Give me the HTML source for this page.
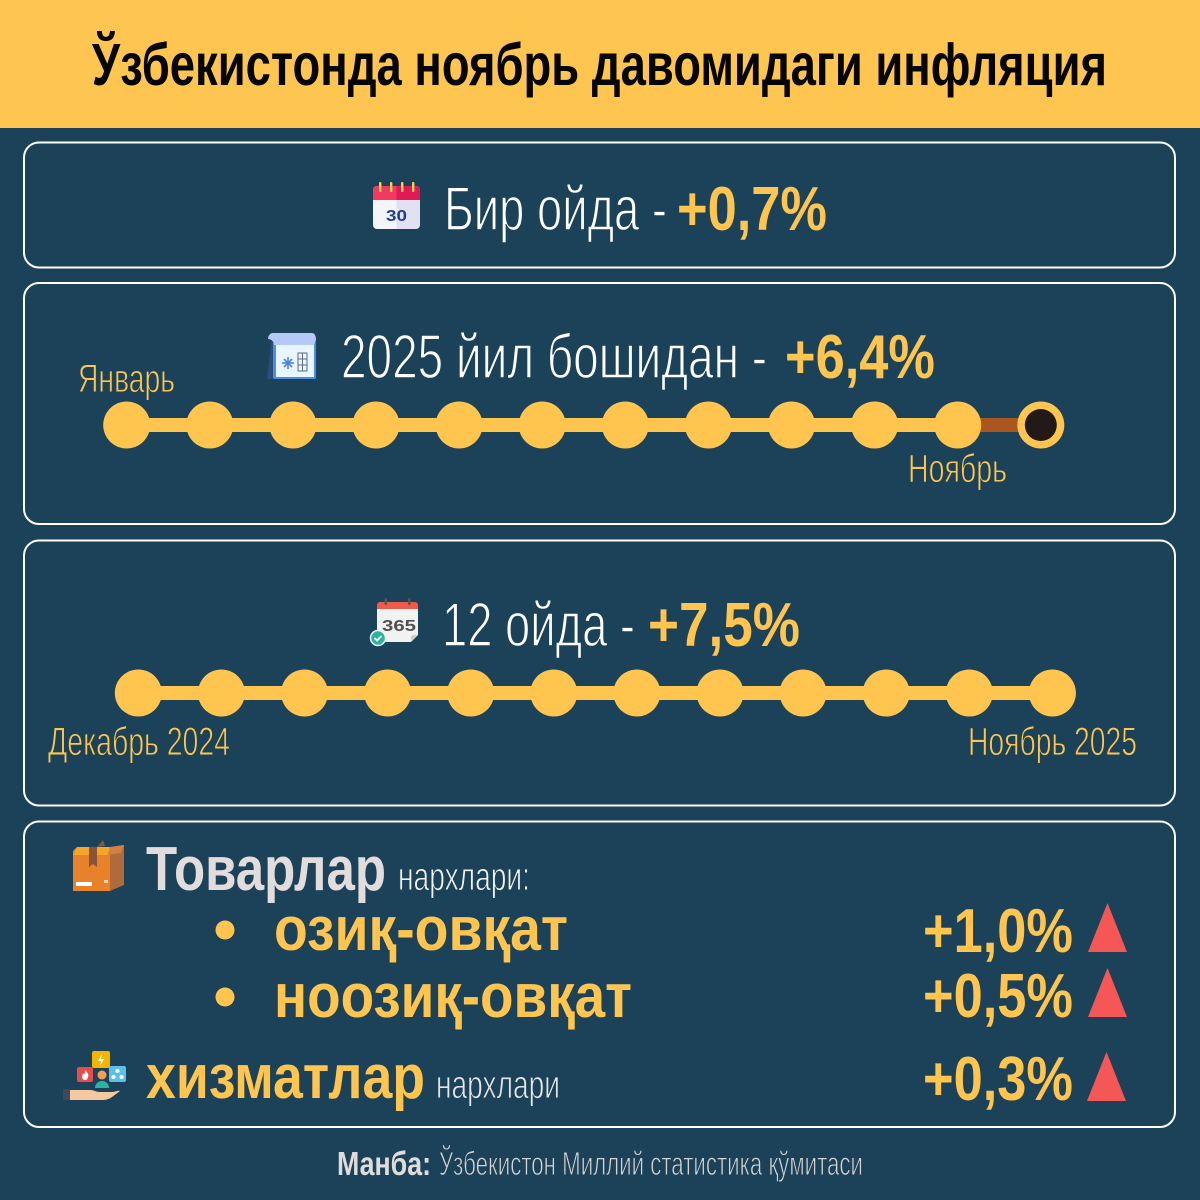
<!DOCTYPE html>
<html><head><meta charset="utf-8"><style>
html,body{margin:0;padding:0;background:#1B4259;}
svg{display:block;}
text{font-family:"Liberation Sans","DejaVu Sans",sans-serif;}
.b{font-weight:bold;}
.lt{stroke:#1B4259;stroke-width:1.4;}
.ls{stroke:#1B4259;stroke-width:0.9;}
</style></head><body>
<svg width="1200" height="1200" viewBox="0 0 1200 1200" xmlns="http://www.w3.org/2000/svg">
<rect width="1200" height="1200" fill="#1B4259"/>
<rect width="1200" height="128" fill="#FFC551"/>
<text x="92" y="85" font-size="59" class="b" fill="#050505" textLength="1015" lengthAdjust="spacingAndGlyphs">Ўзбекистонда ноябрь давомидаги инфляция</text>

<!-- boxes -->
<g fill="none" stroke="#FFFFFF" stroke-width="2">
<rect x="24" y="142.5" width="1151" height="125" rx="15"/>
<rect x="24" y="283" width="1151" height="241" rx="15"/>
<rect x="24" y="540.5" width="1151" height="265" rx="15"/>
<rect x="24" y="821.5" width="1151" height="305.5" rx="15"/>
</g>

<!-- box 1 -->
<g>
<path d="M377 186 h19.5 v43 h-19.5 a4 4 0 0 1 -4 -4 v-35 a4 4 0 0 1 4 -4z" fill="#F5F5F9"/>
<path d="M396.5 186 h19.5 a4 4 0 0 1 4 4 v35 a4 4 0 0 1 -4 4 h-19.5z" fill="#E3E0F1"/>
<path d="M377 186 h19.5 v14 h-23.5 v-10 a4 4 0 0 1 4 -4z" fill="#F2395F"/>
<path d="M396.5 186 h19.5 a4 4 0 0 1 4 4 v10 h-23.5z" fill="#E01A57"/>
<rect x="379" y="182" width="2.4" height="10" rx="1" fill="#F7D64A"/>
<rect x="390" y="182" width="2.4" height="10" rx="1" fill="#F7D64A"/>
<rect x="401" y="182" width="2.4" height="10" rx="1" fill="#F7D64A"/>
<rect x="412" y="182" width="2.4" height="10" rx="1" fill="#F7D64A"/>
<text x="386" y="221" font-size="16" class="b" fill="#1E3E90" textLength="21" lengthAdjust="spacingAndGlyphs">30</text>
</g>
<text x="444" y="230" font-size="62" fill="#FFFFFF" class="lt" textLength="223" lengthAdjust="spacingAndGlyphs">Бир ойда -</text>
<text x="677" y="230" font-size="62" class="b" fill="#FFC54F" textLength="150" lengthAdjust="spacingAndGlyphs">+0,7%</text>

<!-- box 2 -->
<g>
<path d="M272 336 L279 336 L279 379 L267 379 Z" fill="#2D4C7E"/>
<rect x="273" y="342" width="43" height="37" rx="2" fill="#4A8FE0"/>
<rect x="276" y="344" width="38" height="33" fill="#E9F5FF"/>
<path d="M272 333 h40 a4 6 0 0 1 0 12 h-38 a6 6 0 0 0 -6 -6 a6 6 0 0 1 4 -6z" fill="#B4C9F5"/>
<g stroke="#4D86E0" stroke-width="1.6">
<line x1="282" y1="363" x2="294" y2="363"/><line x1="288" y1="357" x2="288" y2="369"/>
<line x1="284" y1="359" x2="292" y2="367"/><line x1="292" y1="359" x2="284" y2="367"/>
</g>
<g stroke="#5A6A8A" stroke-width="1" fill="none">
<rect x="298" y="353" width="9" height="18"/>
<line x1="302.5" y1="353" x2="302.5" y2="371"/>
<line x1="298" y1="359" x2="307" y2="359"/><line x1="298" y1="365" x2="307" y2="365"/>
</g>
</g>
<text x="341" y="378" font-size="62" fill="#FFFFFF" class="lt" textLength="426" lengthAdjust="spacingAndGlyphs">2025 йил бошидан -</text>
<text x="785" y="378" font-size="62" class="b" fill="#FFC54F" textLength="150" lengthAdjust="spacingAndGlyphs">+6,4%</text>
<text x="78" y="392" font-size="40" fill="#FFC54F" class="ls" textLength="97" lengthAdjust="spacingAndGlyphs">Январь</text>
<text x="908" y="482" font-size="40" fill="#FFC54F" class="ls" textLength="99" lengthAdjust="spacingAndGlyphs">Ноябрь</text>

<line x1="126.7" y1="425" x2="958.6" y2="425" stroke="#FFC54F" stroke-width="14"/>
<line x1="958.6" y1="425" x2="1040.8" y2="425" stroke="#A9561F" stroke-width="14"/>
<g fill="#FFC54F">
<circle cx="126.7" cy="425" r="23.5"/><circle cx="209.8" cy="425" r="23.5"/><circle cx="292.9" cy="425" r="23.5"/>
<circle cx="376" cy="425" r="23.5"/><circle cx="459.1" cy="425" r="23.5"/><circle cx="542.2" cy="425" r="23.5"/>
<circle cx="625.3" cy="425" r="23.5"/><circle cx="708.4" cy="425" r="23.5"/><circle cx="791.5" cy="425" r="23.5"/>
<circle cx="874.6" cy="425" r="23.5"/><circle cx="957.7" cy="425" r="23.5"/><circle cx="1040.8" cy="425" r="23.5"/>
</g>
<circle cx="1040.8" cy="425" r="16" fill="#231A17"/>

<!-- box 3 -->
<g>
<path d="M377 609 v30 a3 3 0 0 0 3 3 h31 l7 -7 v-26 z" fill="#F2F2F2"/>
<path d="M411 642 v-5 a2 2 0 0 1 2 -2 h5 z" fill="#D0D0D0"/>
<path d="M380 602 h35 a3 3 0 0 1 3 3 v4 h-41 v-4 a3 3 0 0 1 3 -3z" fill="#F05A4A"/>
<rect x="384.5" y="598" width="2.6" height="7" rx="1.2" fill="#555"/>
<rect x="408" y="598" width="2.6" height="7" rx="1.2" fill="#555"/>
<text x="382" y="631" font-size="16" class="b" fill="#505050" textLength="34" lengthAdjust="spacingAndGlyphs">365</text>
<circle cx="378" cy="638" r="7.5" fill="#2BB3A0" stroke="#E8F5F3" stroke-width="1.5"/>
<path d="M374.5 638 l2.5 2.5 l4.5 -4.5" stroke="#fff" stroke-width="1.8" fill="none"/>
</g>
<text x="442" y="646" font-size="62" fill="#FFFFFF" class="lt" textLength="193" lengthAdjust="spacingAndGlyphs">12 ойда -</text>
<text x="648" y="646" font-size="62" class="b" fill="#FFC54F" textLength="152" lengthAdjust="spacingAndGlyphs">+7,5%</text>

<line x1="138.3" y1="693" x2="1052.4" y2="693" stroke="#FFC54F" stroke-width="14"/>
<g fill="#FFC54F">
<circle cx="138.3" cy="693" r="23.5"/><circle cx="221.4" cy="693" r="23.5"/><circle cx="304.5" cy="693" r="23.5"/>
<circle cx="387.6" cy="693" r="23.5"/><circle cx="470.7" cy="693" r="23.5"/><circle cx="553.8" cy="693" r="23.5"/>
<circle cx="636.9" cy="693" r="23.5"/><circle cx="720" cy="693" r="23.5"/><circle cx="803.1" cy="693" r="23.5"/>
<circle cx="886.2" cy="693" r="23.5"/><circle cx="969.3" cy="693" r="23.5"/><circle cx="1052.4" cy="693" r="23.5"/>
</g>
<text x="48" y="755" font-size="40" fill="#FFC54F" class="ls" textLength="182" lengthAdjust="spacingAndGlyphs">Декабрь 2024</text>
<text x="968" y="755" font-size="40" fill="#FFC54F" class="ls" textLength="169" lengthAdjust="spacingAndGlyphs">Ноябрь 2025</text>

<!-- box 4 -->
<g>
<path d="M77 847 h33 v44 h-37 v-40 z" fill="#E8822A"/>
<path d="M77 847 h33 l-2 8 h-35 z" fill="#F5A52A"/>
<path d="M110 847 l14 -2 v40 l-14 6 z" fill="#B06A3C"/>
<path d="M110 847 l14 -2 l-3 8 l-13 2z" fill="#D08040"/>
<path d="M89 847 h8 v20 l-4 -3 l-4 3 z" fill="#8A5438"/>
<path d="M97 847 l6 -7 l2 6 z" fill="#8A5438"/>
<rect x="76" y="882" width="16" height="4" fill="#FFFFFF"/>
<rect x="104" y="880" width="4" height="3" fill="#F5D0A0"/>
</g>
<text x="146" y="890" font-size="62" class="b" fill="#E3DCDC" textLength="240" lengthAdjust="spacingAndGlyphs">Товарлар</text>
<text x="398" y="890" font-size="40" fill="#F2F2F2" class="ls" textLength="132" lengthAdjust="spacingAndGlyphs">нархлари:</text>

<circle cx="225" cy="930" r="9.5" fill="#FFC54F"/>
<circle cx="225" cy="997" r="9.5" fill="#FFC54F"/>
<text x="274" y="950" font-size="62" class="b" fill="#FFC54F" textLength="294" lengthAdjust="spacingAndGlyphs">озиқ-овқат</text>
<text x="274" y="1017" font-size="62" class="b" fill="#FFC54F" textLength="358" lengthAdjust="spacingAndGlyphs">ноозиқ-овқат</text>

<g>
<rect x="92" y="1051" width="18" height="17" rx="2" fill="#F5B400"/>
<path d="M102 1054 l-4 7 h3 l-1 5 l4 -7 h-3 z" fill="#fff"/>
<rect x="77" y="1067" width="16" height="15" rx="2" fill="#E84C4C"/>
<path d="M85 1070 c3 3 4 5 3 7 a3 3 0 0 1 -6 0 c0 -2 1 -3 2 -4 c0 2 1 2 1 -3z" fill="#fff"/>
<rect x="109" y="1066" width="17" height="16" rx="2" fill="#5BC0EB"/>
<circle cx="117.5" cy="1071" r="2" fill="#fff"/><circle cx="113.5" cy="1077" r="2" fill="#fff"/><circle cx="121.5" cy="1077" r="2" fill="#fff"/>
<circle cx="102" cy="1075" r="4.5" fill="#F0A050"/>
<path d="M95 1088 a7 7 0 0 1 14 0 z" fill="#2BB5A0"/>
<path d="M70 1090 h20 c4 0 6 2 10 2 h12 c3 0 6 -2 8 -1 l-8 6 c-3 2 -6 3 -10 3 h-32 z" fill="#F5C9A0"/>
<rect x="63" y="1089" width="7" height="11" fill="#3E4A5C"/>
</g>
<text x="146" y="1098" font-size="62" class="b" fill="#FFC54F" textLength="279" lengthAdjust="spacingAndGlyphs">хизматлар</text>
<text x="436" y="1098" font-size="40" fill="#E6E6EA" class="ls" textLength="124" lengthAdjust="spacingAndGlyphs">нархлари</text>

<text x="923" y="952" font-size="62" class="b" fill="#FFC54F" textLength="150" lengthAdjust="spacingAndGlyphs">+1,0%</text>
<text x="923" y="1017" font-size="62" class="b" fill="#FFC54F" textLength="150" lengthAdjust="spacingAndGlyphs">+0,5%</text>
<text x="923" y="1100" font-size="62" class="b" fill="#FFC54F" textLength="150" lengthAdjust="spacingAndGlyphs">+0,3%</text>
<g fill="#F55656">
<polygon points="1088,952 1127,952 1107.5,903"/>
<polygon points="1088,1017 1127,1017 1107.5,968"/>
<polygon points="1087,1101 1126,1101 1106.5,1052"/>
</g>

<!-- footer -->
<text x="337" y="1175" font-size="33" class="b" fill="#E0DCDC" textLength="94" lengthAdjust="spacingAndGlyphs">Манба:</text>
<text x="439" y="1175" font-size="33" fill="#D8D4D4" class="ls" textLength="424" lengthAdjust="spacingAndGlyphs">Ўзбекистон Миллий статистика қўмитаси</text>
</svg>
</body></html>
